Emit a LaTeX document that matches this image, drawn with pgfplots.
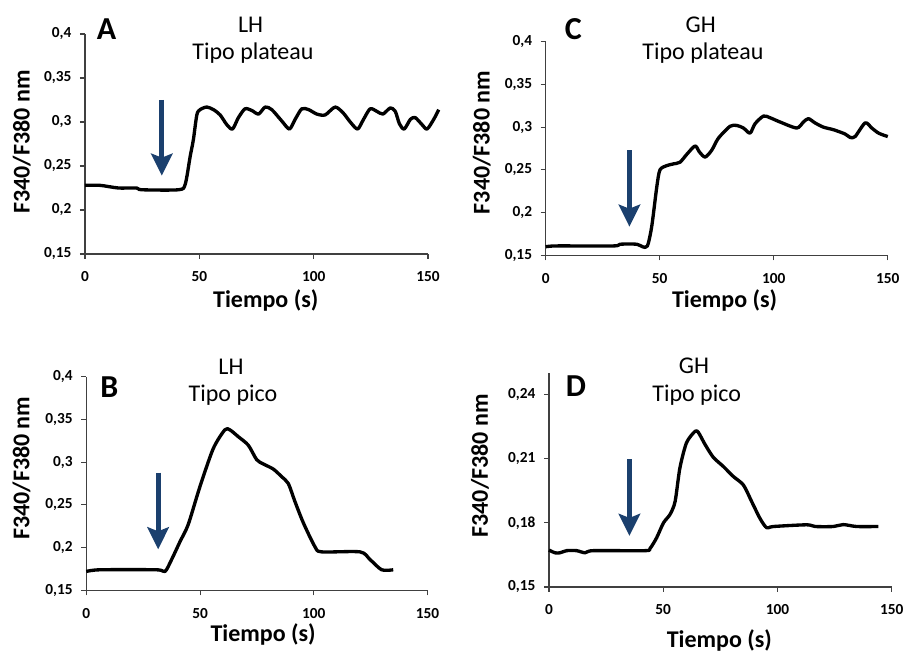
\documentclass[border=0pt]{standalone}
\usepackage{fontspec}
\setmainfont{Carlito}
\usepackage{pgfplots}
\pgfplotsset{compat=1.18}
\usetikzlibrary{arrows.meta}
\definecolor{arrowblue}{HTML}{1B406E}
\definecolor{axisgray}{HTML}{404040}

% 1 px of the reference = 0.75pt
\pgfplotsset{
  panel/.style={
    scale only axis, clip=false,
    axis lines=left, axis line style={-, draw=axisgray, line width=0.8pt},
    xmin=0, xmax=150, xtick={0,50,100,150},
    tick align=outside, major tick length=3.75pt,
    tick style={draw=axisgray, line width=0.8pt},
    tick label style={font=\fontsize{11.5}{12}\selectfont\bfseries},
    /pgf/number format/assume math mode=true,
    /pgf/number format/use comma, /pgf/number format/fixed,
    /pgf/number format/precision=2,
    xticklabel shift=6pt, yticklabel shift=3pt,
    xlabel={Tiempo (s)}, ylabel={F340/F380 nm},
    label style={font=\fontsize{18}{20}\selectfont\bfseries},
  },
  curve/.style={black, line width=2.5pt, smooth, tension=0.45, line join=round},
}
\tikzset{downarrow/.style={arrowblue, line width=4pt, -{Stealth[length=16.5pt, width=16pt, inset=3pt]}}}

\begin{document}
\begin{tikzpicture}
\useasboundingbox (0,0) rectangle (677.25pt,489pt);

% A: LH plateau
\begin{axis}[panel, at={(63.75pt,298.5pt)}, anchor=south west,
  width=257.25pt, height=165pt,
  ymin=0.15, ymax=0.4, ytick={0.15,0.2,0.25,0.3,0.35,0.4},
  xlabel style={at={(axis description cs:0.527,0)}, anchor=center, yshift=-34.5pt},
  ylabel style={at={(axis description cs:0,0.509)}, anchor=center, yshift=47.5pt}]
\addplot[curve] coordinates {
 (0,0.228) (6.6,0.228) (14.6,0.225) (22.6,0.225) (24.8,0.223) (40.9,0.223)
 (43.8,0.229) (46,0.261) (47.4,0.280) (48.9,0.308) (50.3,0.314) (53.3,0.317)
 (56.2,0.314) (59.1,0.308) (62,0.297) (64.5,0.292) (67.1,0.305) (70,0.315)
 (73,0.313) (75.9,0.309) (78.8,0.317) (81.7,0.314) (86.1,0.301) (89.4,0.292)
 (91.9,0.303) (94.8,0.315) (97.8,0.314) (101.4,0.309) (105,0.308) (109.4,0.317)
 (113,0.310) (116,0.300) (119.2,0.292) (121.8,0.303) (124.7,0.315) (127.7,0.312)
 (130.3,0.309) (133.5,0.316) (135.7,0.312) (137.5,0.298) (139.6,0.292)
 (142.3,0.303) (144.4,0.305) (147.4,0.297) (149.6,0.292) (152.5,0.303) (154.7,0.314)};
\draw[downarrow] (axis cs:33.6,0.325) -- (axis cs:33.6,0.239);
\end{axis}

% C: GH plateau
\begin{axis}[panel, at={(409.3pt,297.5pt)}, anchor=south west,
  width=256.5pt, height=160.2pt,
  ymin=0.15, ymax=0.4, ytick={0.15,0.2,0.25,0.3,0.35,0.4},
  xlabel style={at={(axis description cs:0.523,0)}, anchor=center, yshift=-33.5pt},
  ylabel style={at={(axis description cs:0,0.528)}, anchor=center, yshift=48pt}]
\addplot[curve] coordinates {
 (0,0.160) (4.8,0.161) (29.7,0.161) (32.6,0.163) (39.9,0.163) (42.5,0.160)
 (44.6,0.161) (46.5,0.184) (48.7,0.230) (50.1,0.250) (53.1,0.255) (56,0.257)
 (58.9,0.259) (61.8,0.268) (65.5,0.278) (67.4,0.271) (69.9,0.265) (72.8,0.273)
 (75.7,0.287) (80.8,0.301) (83.8,0.302) (86.7,0.299) (89.6,0.293) (91.8,0.304)
 (95.5,0.313) (98.4,0.311) (102.8,0.306) (110.1,0.299) (113,0.306) (115.2,0.310)
 (118.1,0.305) (121.8,0.300) (126.2,0.297) (131.3,0.292) (133.5,0.288)
 (135.7,0.289) (140.1,0.305) (143,0.299) (146,0.293) (150,0.289)};
\draw[downarrow] (axis cs:36.7,0.273) -- (axis cs:36.7,0.1835);
\end{axis}

% B: LH pico
\begin{axis}[panel, at={(64.7pt,46.3pt)}, anchor=south west,
  width=256pt, height=160pt,
  ymin=0.15, ymax=0.4, ytick={0.15,0.2,0.25,0.3,0.35,0.4},
  xlabel style={at={(axis description cs:0.518,0)}, anchor=center, yshift=-33.5pt},
  ylabel style={at={(axis description cs:0,0.572)}, anchor=center, yshift=48.5pt}]
\addplot[curve] coordinates {
 (0,0.172) (6,0.174) (30.9,0.174) (34.6,0.172) (37.5,0.186) (41.2,0.207)
 (44.8,0.227) (49.9,0.271) (55.8,0.316) (60.9,0.338) (63.1,0.338) (66.8,0.330)
 (71.2,0.320) (74.9,0.303) (77.8,0.298) (82.2,0.292) (85.9,0.283) (88.8,0.275)
 (91.7,0.254) (95.4,0.229) (100.5,0.201) (103.4,0.195) (120.3,0.195)
 (124.7,0.186) (129.8,0.174) (134.9,0.174)};
\draw[downarrow] (axis cs:31.6,0.288) -- (axis cs:31.6,0.198);
\end{axis}

% D: GH pico
\begin{axis}[panel, at={(411.75pt,48.75pt)}, anchor=south west,
  width=257pt, height=160.3pt,
  ymin=0.15, ymax=0.25, ytick={0.15,0.18,0.21,0.24},
  xlabel style={at={(axis description cs:0.497,0)}, anchor=center, yshift=-39.75pt},
  ylabel style={at={(axis description cs:0,0.567)}, anchor=center, yshift=51.75pt}]
\addplot[curve] coordinates {
 (0,0.1673) (2.6,0.166) (4.8,0.166) (7.7,0.167) (12.1,0.167) (15.8,0.166)
 (19.4,0.167) (42,0.167) (44.2,0.168) (47.1,0.173) (50.1,0.180) (53,0.184)
 (55.2,0.190) (57.3,0.2057) (60.2,0.2175) (63.9,0.2228) (65.4,0.2223)
 (68.3,0.2167) (71.9,0.2107) (76.3,0.2064) (80.7,0.2017) (85.1,0.1977)
 (88.7,0.190) (92.4,0.182) (95.3,0.1777) (98.2,0.1783) (112.8,0.1791)
 (116.5,0.1783) (124.5,0.1783) (128.8,0.1792) (134.7,0.1783) (144.2,0.1783)};
\draw[downarrow] (axis cs:35.2,0.2097) -- (axis cs:35.2,0.1739);
\end{axis}

% panel letters and titles
\begin{scope}[every node/.style={font=\fontsize{18}{20}\selectfont, anchor=center}]
\node at (188pt,470.25pt) {LH};
\node at (189.75pt,449.25pt) {Tipo plateau};
\node at (525.5pt,470.25pt) {GH};
\node at (527.25pt,449.25pt) {Tipo plateau};
\node at (173.25pt,214pt) {LH};
\node at (174.75pt,192.75pt) {Tipo pico};
\node at (520.5pt,214.5pt) {GH};
\node at (522.5pt,192.75pt) {Tipo pico};
\end{scope}
\begin{scope}[every node/.style={font=\fontsize{24}{26}\selectfont\bfseries, anchor=center}]
\node at (80pt,467pt) {A};
\node at (430pt,467pt) {C};
\node at (82pt,199pt) {B};
\node at (432pt,199.5pt) {D};
\end{scope}
\end{tikzpicture}
\end{document}
